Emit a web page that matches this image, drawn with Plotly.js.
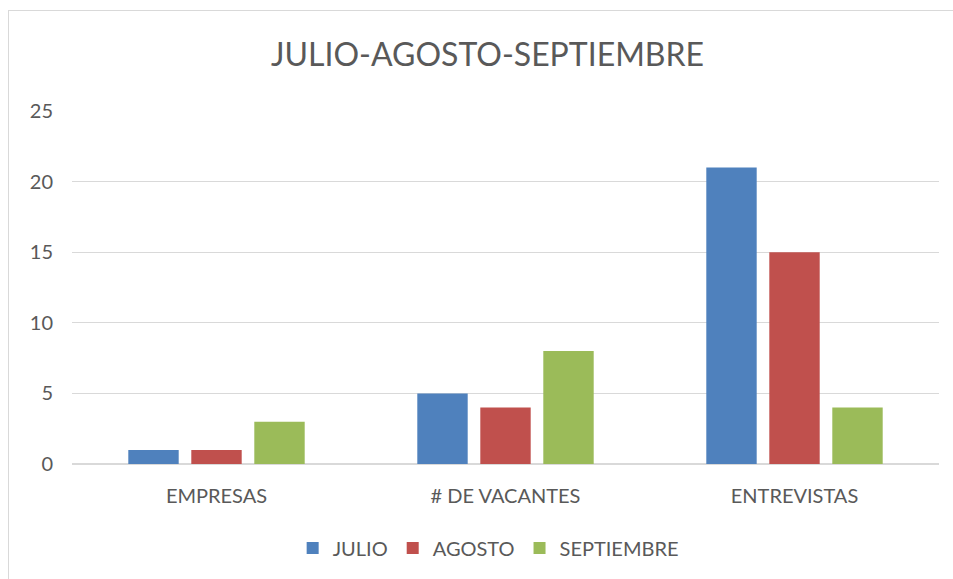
<!DOCTYPE html>
<html>
<head>
<meta charset="utf-8">
<script src="https://cdn.plot.ly/plotly-3.0.1.min.js"></script>
<style>
html,body{margin:0;padding:0;overflow:hidden;background:#fff;}
#frame{position:absolute;left:8px;top:10px;width:1000px;height:700px;border:1px solid #D9D9D9;pointer-events:none;}
#chart{position:absolute;left:0;top:0;width:953px;height:579px;}
</style>
</head>
<body>
<div id="chart"></div>
<div id="frame"></div>
<script>
const categories = ["EMPRESAS", "# DE VACANTES", "ENTREVISTAS"];
const seriesNames = ["JULIO", "AGOSTO", "SEPTIEMBRE"];
const julio = [1, 5, 21];
const agosto = [1, 4, 15];
const septiembre = [3, 8, 4];
const colors = ["#4F81BD", "#C0504D", "#9BBB59"];
const yTicks = [0, 5, 10, 15, 20, 25];

const values = [julio, agosto, septiembre];
const traces = values.map((v, i) => ({
  type: "bar",
  name: seriesNames[i],
  x: categories,
  y: v,
  marker: {color: colors[i]},
  hoverinfo: "x+y+name"
}));

const font = {family: "Lato, 'Open Sans', sans-serif", color: "#595959"};

const layout = {
  width: 953, height: 579,
  margin: {l: 72, r: 14, t: 111, b: 115},
  paper_bgcolor: "#fff", plot_bgcolor: "#fff",
  font: Object.assign({size: 20}, font),
  title: {
    text: "JULIO-AGOSTO-SEPTIEMBRE",
    font: Object.assign({size: 32}, font),
    x: 0.5116, xanchor: "center", xref: "container",
    y: 0.905, yanchor: "middle", yref: "container"
  },
  barmode: "group",
  bargap: 0.346,
  bargroupgap: 0.2,
  xaxis: {
    type: "category",
    tickfont: Object.assign({size: 20}, font),
    showgrid: false, showline: false, zeroline: false,
    ticks: "", ticklabelstandoff: 18
  },
  yaxis: {
    range: [0, 25],
    tickvals: yTicks,
    ticktext: yTicks.map(String),
    tickfont: Object.assign({size: 20}, font),
    showgrid: true, gridcolor: "#D9D9D9", gridwidth: 1.3,
    zeroline: true, zerolinecolor: "#D9D9D9", zerolinewidth: 1.3,
    showline: false, ticks: "", ticklabelstandoff: 18
  },
  legend: {
    orientation: "h",
    x: 0.48, xanchor: "center", xref: "paper",
    y: -0.238, yanchor: "middle",
    font: Object.assign({size: 20}, font),
    itemwidth: 30,
    traceorder: "normal"
  },
  showlegend: true
};

Plotly.newPlot("chart", traces, layout, {displayModeBar: false, staticPlot: true});
</script>
</body>
</html>
